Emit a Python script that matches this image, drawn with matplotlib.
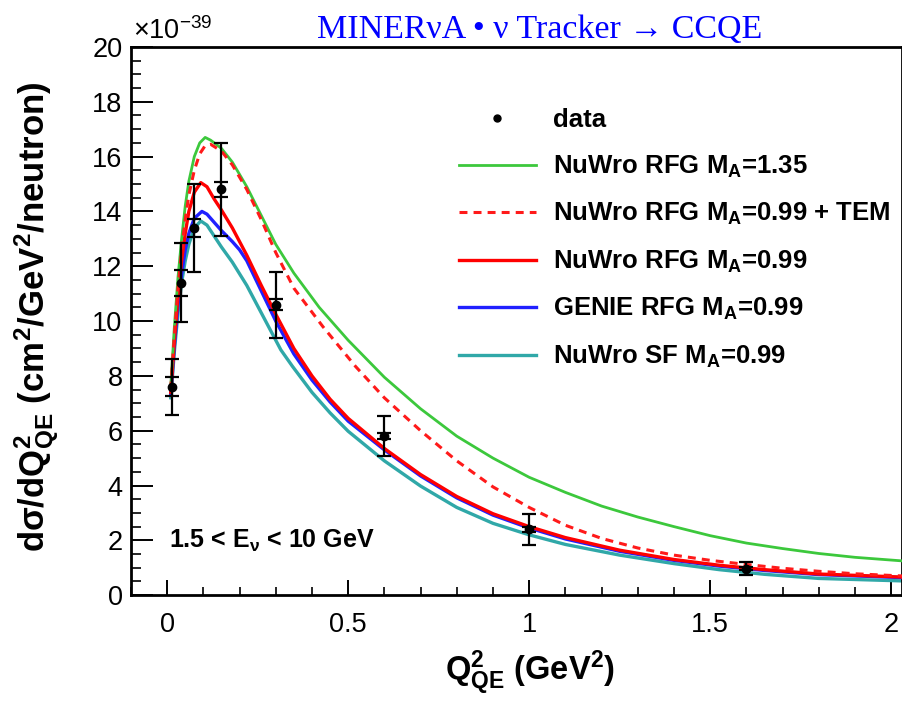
import matplotlib
matplotlib.use("Agg")
import matplotlib.pyplot as plt
from matplotlib.ticker import MultipleLocator, FormatStrFormatter
from matplotlib.lines import Line2D

plt.rcParams['font.family'] = ['Liberation Sans', 'DejaVu Sans']
plt.rcParams['mathtext.fontset'] = 'custom'
plt.rcParams['mathtext.rm'] = 'Liberation Sans'
plt.rcParams['mathtext.bf'] = 'Liberation Sans:bold'
plt.rcParams['mathtext.it'] = 'Liberation Sans:italic'
plt.rcParams['mathtext.default'] = 'bf'

# ---- data (units of 1e-39 cm^2/GeV^2/neutron) ----
data_q2 = [0.0125, 0.0375, 0.075, 0.15, 0.3, 0.6, 1.0, 1.6]
data_val = [7.6, 11.4, 13.4, 14.8, 10.6, 5.8, 2.4, 0.97]
data_tot_err = [1.02, 1.45, 1.6, 1.7, 1.2, 0.74, 0.57, 0.25]
data_stat_err = [0.35, 0.47, 0.33, 0.27, 0.2, 0.12, 0.08, 0.05]

green_q2 = [0.01, 0.02, 0.03, 0.04, 0.05, 0.06, 0.075, 0.09, 0.105, 0.12, 0.15, 0.18, 0.22,
            0.26, 0.3, 0.35, 0.42, 0.5, 0.6, 0.7, 0.8, 0.9, 1.0, 1.1, 1.2, 1.3, 1.4, 1.5,
            1.6, 1.7, 1.8, 1.9, 2.03]
green_val = [7.6, 9.8, 11.6, 13.0, 14.2, 15.1, 16.0, 16.5, 16.7, 16.6, 16.3, 15.8, 14.9,
             13.85, 12.8, 11.75, 10.5, 9.3, 7.95, 6.8, 5.8, 5.0, 4.3, 3.75, 3.25, 2.85, 2.5,
             2.17, 1.9, 1.7, 1.52, 1.38, 1.25]

tem_q2 = [0.01, 0.02, 0.03, 0.04, 0.05, 0.06, 0.075, 0.09, 0.105, 0.12, 0.15, 0.18, 0.22,
          0.26, 0.3, 0.35, 0.43, 0.52, 0.6, 0.7, 0.8, 0.9, 1.0, 1.1, 1.2, 1.3, 1.4, 1.5,
          1.6, 1.7, 1.8, 1.9, 2.03]
tem_val = [7.5, 9.5, 11.2, 12.6, 13.7, 14.6, 15.5, 16.1, 16.4, 16.45, 16.2, 15.7, 14.8,
           13.7, 12.5, 11.2, 9.8, 8.35, 7.2, 6.0, 4.9, 3.95, 3.2, 2.55, 2.07, 1.72, 1.46, 1.27,
           1.12, 0.98, 0.87, 0.78, 0.70]

red_q2 = [0.01, 0.02, 0.03, 0.04, 0.05, 0.06, 0.075, 0.093, 0.11, 0.13, 0.15, 0.18, 0.22,
          0.26, 0.3, 0.35, 0.4, 0.45, 0.5, 0.6, 0.7, 0.8, 0.9, 1.0, 1.1, 1.25, 1.4, 1.525,
          1.65, 1.8, 2.03]
red_val = [7.4, 9.3, 10.9, 12.2, 13.2, 14.0, 14.7, 15.05, 14.9, 14.45, 14.05, 13.4, 12.4,
           11.3, 10.25, 9.0, 8.0, 7.15, 6.45, 5.35, 4.4, 3.6, 2.97, 2.5, 2.1, 1.64, 1.3, 1.09,
           0.93, 0.77, 0.66]

blue_q2 = [0.01, 0.02, 0.03, 0.04, 0.05, 0.06, 0.075, 0.096, 0.11, 0.13, 0.15, 0.18, 0.2,
           0.22, 0.26, 0.3, 0.35, 0.4, 0.45, 0.5, 0.6, 0.7, 0.8, 0.9, 1.0, 1.1, 1.25, 1.4,
           1.525, 1.65, 1.8, 2.03]
blue_val = [7.3, 9.1, 10.6, 11.7, 12.6, 13.2, 13.75, 14.0, 13.9, 13.6, 13.3, 12.9, 12.6,
            12.2, 11.1, 10.0, 8.8, 7.85, 7.05, 6.35, 5.3, 4.35, 3.55, 2.92, 2.45, 2.05, 1.6, 1.27,
            1.06, 0.9, 0.75, 0.64]

cyan_q2 = [0.01, 0.02, 0.03, 0.04, 0.05, 0.06, 0.075, 0.093, 0.11, 0.13, 0.15, 0.18, 0.22,
           0.26, 0.29, 0.314, 0.346, 0.4, 0.45, 0.5, 0.6, 0.7, 0.8, 0.9, 1.0, 1.1, 1.25, 1.4,
           1.525, 1.65, 1.8, 2.03]
cyan_val = [7.2, 8.9, 10.3, 11.4, 12.2, 12.8, 13.4, 13.65, 13.5, 13.1, 12.7, 12.15, 11.3,
            10.3, 9.55, 8.95, 8.35, 7.4, 6.65, 5.98, 4.9, 3.98, 3.2, 2.62, 2.2, 1.85, 1.46,
            1.15, 0.93, 0.76, 0.61, 0.52]

labels = ['data',
          'NuWro RFG M$_{A}$=1.35',
          'NuWro RFG M$_{A}$=0.99 + TEM',
          'NuWro RFG M$_{A}$=0.99',
          'GENIE RFG M$_{A}$=0.99',
          'NuWro SF M$_{A}$=0.99']
colors = ['black', '#3cc83c', '#ff1a1a', '#ff0000', '#2020ff', '#30a8a8']

fig = plt.figure(figsize=(9.03, 7.01), dpi=100)
ax = fig.add_axes([0.145, 0.151, 0.854, 0.782])

ax.plot(cyan_q2, cyan_val, color=colors[5], lw=2.4, zorder=2)
ax.plot(blue_q2, blue_val, color=colors[4], lw=2.4, zorder=3)
ax.plot(red_q2, red_val, color=colors[3], lw=2.4, zorder=4)
ax.plot(green_q2, green_val, color=colors[1], lw=2.0, zorder=5)
ax.plot(tem_q2, tem_val, color=colors[2], lw=2.2, ls=(0, (2.6, 2.0)), zorder=6)

ax.errorbar(data_q2, data_val, yerr=data_tot_err, fmt='none', ecolor='black',
            elinewidth=1.6, capsize=5, capthick=1.6, zorder=7)
ax.errorbar(data_q2, data_val, yerr=data_stat_err, fmt='o', color='black', ms=6,
            ecolor='black', elinewidth=1.6, capsize=5, capthick=1.6, zorder=8)

ax.set_xlim(-0.1, 2.03)
ax.set_ylim(0, 20)
ax.xaxis.set_major_locator(MultipleLocator(0.5))
ax.xaxis.set_minor_locator(MultipleLocator(0.1))
ax.yaxis.set_major_locator(MultipleLocator(2))
ax.yaxis.set_minor_locator(MultipleLocator(0.5))
ax.xaxis.set_major_formatter(FormatStrFormatter('%g'))
ax.yaxis.set_major_formatter(FormatStrFormatter('%g'))
ax.tick_params(axis='x', which='major', direction='in', length=11, width=1.4,
               labelsize=19.5, pad=12, top=False)
ax.tick_params(axis='x', which='minor', direction='in', length=5.5, width=1.2, top=False)
ax.tick_params(axis='y', which='major', direction='in', length=16, width=1.4,
               labelsize=19.5, pad=6, right=False)
ax.tick_params(axis='y', which='minor', direction='in', length=7, width=1.2, right=False)
for s in ax.spines.values():
    s.set_linewidth(2.0)

handles = [Line2D([], [], color='black', marker='o', ls='none', ms=5),
           Line2D([], [], color=colors[1], lw=2.0),
           Line2D([], [], color=colors[2], lw=2.2, ls=(0, (2.6, 2.0))),
           Line2D([], [], color=colors[3], lw=2.4),
           Line2D([], [], color=colors[4], lw=2.4),
           Line2D([], [], color=colors[5], lw=2.4)]
ax.legend(handles, labels, loc='upper left', bbox_to_anchor=(0.425, 0.888),
          frameon=False, prop={'weight': 'bold', 'size': 18.5}, handlelength=3.0,
          handletextpad=0.66, labelspacing=0.83, borderpad=0, borderaxespad=0)

ax.text(0.05, 0.0985, '1.5 < E$_{ν}$ < 10 GeV', transform=ax.transAxes,
        fontsize=18, fontweight='bold', va='center', ha='left')

fig.text(0.147, 0.955, r'$\mathrm{\times 10^{-39}}$', fontsize=19.5, ha='left', va='center')
fig.text(0.598, 0.958, 'MINERνA • ν Tracker → CCQE', family=['Liberation Serif', 'DejaVu Serif'],
         color='#0000ff', fontsize=24.5, ha='center', va='center')

fig.text(0.042, 0.548, 'dσ/dQ$^{2}_{QE}$ (cm$^{2}$/GeV$^{2}$/neutron)', rotation=90,
         fontsize=25, fontweight='bold', ha='center', va='center')
fig.text(0.587, 0.041, 'Q$^{2}_{QE}$ (GeV$^{2}$)', fontsize=23.5, fontweight='bold',
         ha='center', va='center')

fig.savefig('out.png', dpi=100)
